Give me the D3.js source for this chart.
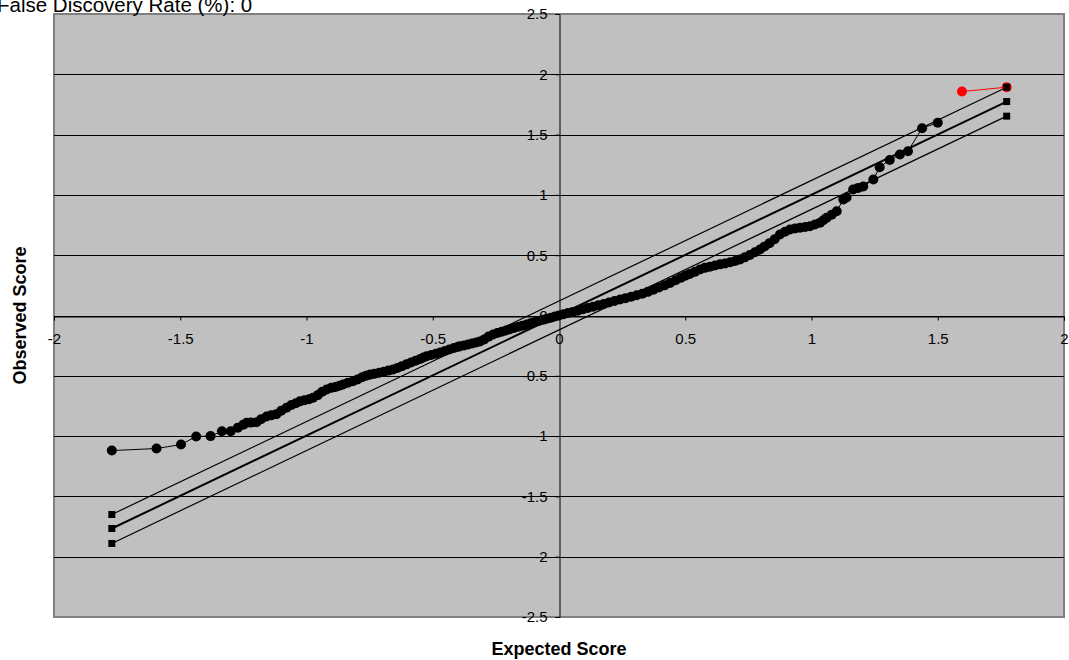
<!DOCTYPE html>
<head>
  <title>SAM Plot</title>
  <meta charset="utf-8">
  <style>
    body { margin: 0; background: #ffffff; }
    text { font-family: 'Liberation Sans', Arial, sans-serif; }
    .axis path.domain { stroke: #000000; stroke-width: 1px; }
    .axis line { stroke: #000000; }
  </style>
</head>

<body>
  <script src="https://cdn.jsdelivr.net/npm/d3@7/dist/d3.min.js"></script>
  <script>
    // expected vs observed score, non-significant genes (black)
    var expectedScore = [
      -1.771, -1.594, -1.497, -1.437, -1.380, -1.335, -1.300, -1.272,
      -1.250, -1.237, -1.220, -1.198, -1.180, -1.158, -1.140, -1.119, -1.100, -1.079,
      -1.060, -1.042, -1.026, -1.008, -0.990, -0.974, -0.955, -0.938, -0.920, -0.902,
      -0.885, -0.870, -0.855, -0.836, -0.816, -0.798, -0.780, -0.764, -0.748, -0.730,
      -0.712, -0.694, -0.676, -0.657, -0.640, -0.622, -0.604, -0.586, -0.568, -0.550,
      -0.537, -0.524, -0.506, -0.488, -0.470, -0.452, -0.434, -0.416, -0.400, -0.392,
      -0.376, -0.360, -0.344, -0.328, -0.313, -0.296, -0.279, -0.261, -0.244, -0.227,
      -0.210, -0.194, -0.178, -0.161, -0.144, -0.128, -0.112, -0.096, -0.080, -0.064,
      -0.048, -0.032, -0.016, 0.000, 0.018, 0.036, 0.055, 0.074, 0.094, 0.114,
      0.135, 0.156, 0.177, 0.198, 0.220, 0.242, 0.264, 0.286, 0.308, 0.330,
      0.352, 0.374, 0.396, 0.418, 0.440, 0.462, 0.482, 0.500, 0.518, 0.538,
      0.558, 0.578, 0.598, 0.618, 0.638, 0.658, 0.678, 0.698, 0.717, 0.736,
      0.756, 0.776, 0.796, 0.814, 0.834, 0.854, 0.875, 0.895, 0.915, 0.935,
      0.955, 0.975, 0.994, 1.014, 1.034, 1.047, 1.060, 1.080, 1.100, 1.126,
      1.139, 1.165, 1.185, 1.205, 1.245, 1.270, 1.310, 1.350, 1.382, 1.438, 1.500
    ];
    var observedScore = [
      -1.120, -1.103, -1.070, -1.003, -1.000, -0.960, -0.960, -0.930,
      -0.905, -0.890, -0.888, -0.885, -0.860, -0.838, -0.828, -0.818, -0.790, -0.765,
      -0.742, -0.728, -0.712, -0.703, -0.695, -0.682, -0.660, -0.632, -0.614, -0.600,
      -0.592, -0.582, -0.572, -0.558, -0.545, -0.530, -0.512, -0.500, -0.490, -0.482,
      -0.474, -0.466, -0.457, -0.448, -0.436, -0.420, -0.405, -0.390, -0.375, -0.360,
      -0.348, -0.338, -0.328, -0.318, -0.306, -0.295, -0.282, -0.270, -0.260, -0.255,
      -0.248, -0.240, -0.232, -0.224, -0.215, -0.198, -0.175, -0.158, -0.145, -0.135,
      -0.124, -0.114, -0.104, -0.094, -0.084, -0.075, -0.065, -0.055, -0.046, -0.036,
      -0.027, -0.018, -0.008, 0.000, 0.010, 0.020, 0.030, 0.040, 0.051, 0.062,
      0.073, 0.085, 0.096, 0.108, 0.120, 0.132, 0.144, 0.156, 0.168, 0.180,
      0.196, 0.214, 0.232, 0.250, 0.270, 0.292, 0.312, 0.330, 0.345, 0.362,
      0.381, 0.395, 0.405, 0.415, 0.424, 0.432, 0.442, 0.452, 0.464, 0.482,
      0.502, 0.525, 0.547, 0.573, 0.600, 0.632, 0.672, 0.695, 0.713, 0.722,
      0.728, 0.734, 0.740, 0.755, 0.770, 0.790, 0.810, 0.835, 0.865, 0.962,
      0.978, 1.045, 1.058, 1.070, 1.128, 1.230, 1.290, 1.335, 1.362, 1.553, 1.598
    ];

    // significant genes (red)
    var sigExpected = [1.596, 1.773];
    var sigObserved = [1.857, 1.893];

    // delta cut-off lines
    var cutoffX = [-1.771, 1.773];
    var upperLine = [-1.650, 1.893];
    var middleLine = [-1.766, 1.774];
    var lowerLine = [-1.890, 1.653];

    var xTicks = [-2, -1.5, -1, -0.5, 0, 0.5, 1, 1.5, 2];
    var yTicks = [-2.5, -2, -1.5, -1, -0.5, 0, 0.5, 1, 1.5, 2, 2.5];

    var titleText = "False Discovery Rate (%): 0";
    var xTitle = "Expected Score";
    var yTitle = "Observed Score";

    var width = 1069, height = 660;
    var plot = { left: 54, right: 1064, top: 14, bottom: 617 };

    var svg = d3.select("body").append("svg")
      .attr("width", width)
      .attr("height", height);

    var x = d3.scaleLinear().domain([-2, 2]).range([plot.left, plot.right]);
    var y = d3.scaleLinear().domain([-2.5, 2.5]).range([plot.bottom, plot.top]);

    // grey plot area
    svg.append("rect")
      .attr("x", plot.left)
      .attr("y", plot.top)
      .attr("width", plot.right - plot.left)
      .attr("height", plot.bottom - plot.top)
      .attr("fill", "#C0C0C0")
      .attr("stroke", "#808080")
      .attr("stroke-width", 2);

    // horizontal gridlines
    svg.selectAll(".grid")
      .data(yTicks.filter(function (d) { return Math.abs(d) < 2.5; }))
      .enter().append("line")
      .attr("class", "grid")
      .attr("x1", plot.left)
      .attr("x2", plot.right)
      .attr("y1", function (d) { return Math.round(y(d)) + 0.5; })
      .attr("y2", function (d) { return Math.round(y(d)) + 0.5; })
      .attr("stroke", "#000000")
      .attr("stroke-width", 1);

    var line = d3.line()
      .x(function (d) { return x(d[0]); })
      .y(function (d) { return y(d[1]); });

    // cutoff lines with square end markers
    [upperLine, middleLine, lowerLine].forEach(function (vals, i) {
      var pts = cutoffX.map(function (cx, j) { return [cx, vals[j]]; });
      svg.append("path")
        .attr("d", line(pts))
        .attr("fill", "none")
        .attr("stroke", "#000000")
        .attr("stroke-width", i == 1 ? 2 : 1.2);
      svg.selectAll(null)
        .data(pts)
        .enter().append("rect")
        .attr("x", function (d) { return x(d[0]) - 3.5; })
        .attr("y", function (d) { return y(d[1]) - 3.5; })
        .attr("width", 7)
        .attr("height", 7)
        .attr("fill", "#000000");
    });

    // observed vs expected points
    var pts = expectedScore.map(function (e, i) { return [e, observedScore[i]]; });
    svg.append("path")
      .attr("d", line(pts))
      .attr("fill", "none")
      .attr("stroke", "#000000")
      .attr("stroke-width", 1);
    svg.selectAll(".pt")
      .data(pts)
      .enter().append("circle")
      .attr("class", "pt")
      .attr("cx", function (d) { return x(d[0]); })
      .attr("cy", function (d) { return y(d[1]); })
      .attr("r", 5)
      .attr("fill", "#000000");

    var sigPts = sigExpected.map(function (e, i) { return [e, sigObserved[i]]; });
    svg.append("path")
      .attr("d", line(sigPts))
      .attr("fill", "none")
      .attr("stroke", "#FF0000")
      .attr("stroke-width", 1);
    svg.selectAll(".sig")
      .data(sigPts)
      .enter().append("circle")
      .attr("class", "sig")
      .attr("cx", function (d) { return x(d[0]); })
      .attr("cy", function (d) { return y(d[1]); })
      .attr("r", 5)
      .attr("fill", "#FF0000");
    // the upper cutoff marker sits on top of the last red point
    svg.append("rect")
      .attr("x", x(cutoffX[1]) - 3.5)
      .attr("y", y(upperLine[1]) - 3.5)
      .attr("width", 7)
      .attr("height", 7)
      .attr("fill", "#000000");

    // axes crossing at zero
    var xAxis = d3.axisBottom(x)
      .tickValues(xTicks)
      .tickSize(4)
      .tickPadding(13)
      .tickFormat(function (d) { return String(d); });
    svg.append("g")
      .attr("class", "axis")
      .attr("transform", "translate(0," + (Math.round(y(0)) + 0.5) + ")")
      .call(xAxis);

    var yAxis = d3.axisLeft(y)
      .tickValues(yTicks)
      .tickSize(4)
      .tickPadding(8)
      .tickFormat(function (d) { return String(d); });
    svg.append("g")
      .attr("class", "axis")
      .attr("transform", "translate(" + (Math.round(x(0)) + 0.5) + ",0)")
      .call(yAxis);

    svg.selectAll(".axis text")
      .style("font-family", "'Liberation Sans', Arial, sans-serif")
      .style("font-size", "15px")
      .style("fill", "#000000");

    // titles
    svg.append("text")
      .attr("x", -3)
      .attr("y", 12)
      .style("font-size", "20.5px")
      .style("fill", "#000000")
      .text(titleText);

    svg.append("text")
      .attr("x", (plot.left + plot.right) / 2)
      .attr("y", 655)
      .attr("text-anchor", "middle")
      .style("font-size", "18px")
      .style("font-weight", "bold")
      .text(xTitle);

    svg.append("text")
      .attr("transform", "translate(26," + ((plot.top + plot.bottom) / 2) + ") rotate(-90)")
      .attr("text-anchor", "middle")
      .style("font-size", "18px")
      .style("font-weight", "bold")
      .text(yTitle);
  </script>
</body>
